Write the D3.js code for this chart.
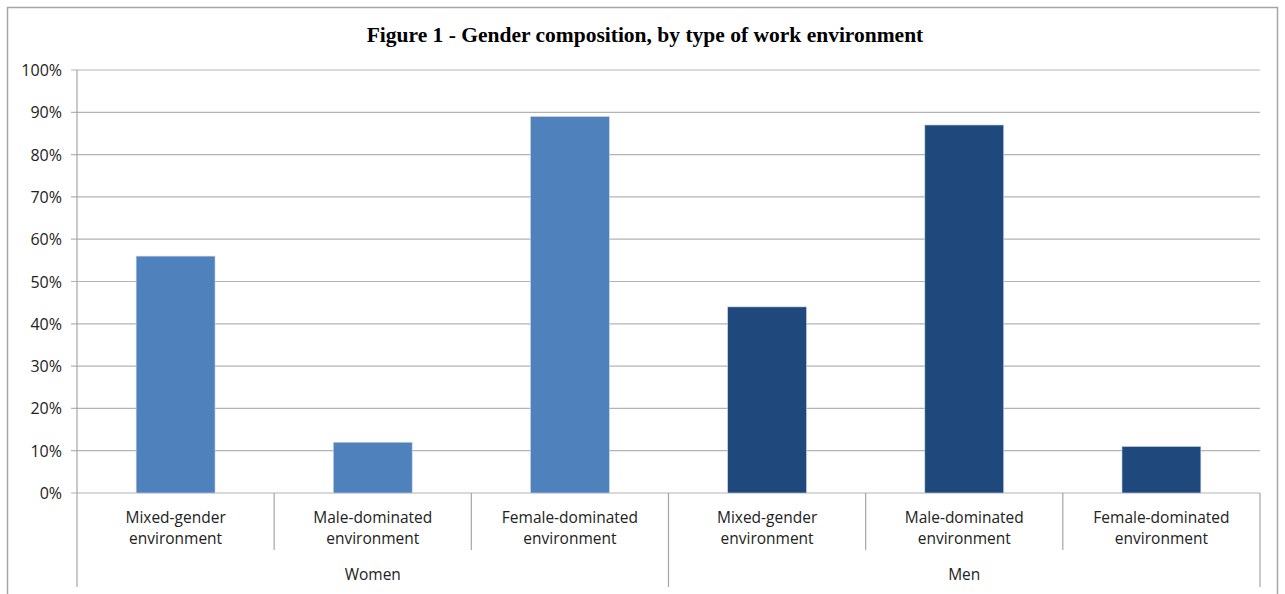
<!DOCTYPE html>
<html>
<head>
<meta charset="utf-8">
<script src="https://cdn.jsdelivr.net/npm/d3@7"></script>
<style>
	body { margin: 0; background: #fff; }
	text { font-family: "Open Sans", "Liberation Sans", sans-serif; fill: #222; }
</style>
</head>
<body>
<svg id="chart"></svg>
<script>
var groups = ["Women", "Men"]
var environments = ["Mixed-gender environment", "Male-dominated environment", "Female-dominated environment"]
var womenValues = [56, 12, 89]
var menValues = [44, 87, 11]
var yTicks = [0, 10, 20, 30, 40, 50, 60, 70, 80, 90, 100]
var groupColors = ["#4F81BD", "#1F497D"]

var data = []
groups.forEach(function (g, gi) {
	var vals = gi === 0 ? womenValues : menValues
	environments.forEach(function (e, ei) {
		data.push({ key: g + "|" + e, group: g, env: e, value: vals[ei], color: groupColors[gi] })
	})
})

var width = 1285
var height = 594
var plotLeft = 77, plotRight = 1260, plotTop = 70, plotBottom = 493

var svg = d3.select("#chart").attr("width", width).attr("height", height)

svg.append("rect")
	.attr("x", 7.5).attr("y", 7.5)
	.attr("width", 1270).attr("height", 600)
	.attr("fill", "#fff")
	.attr("stroke", "#A6A6A6")
	.attr("stroke-width", 1.5)

svg.append("text")
	.attr("x", 645)
	.attr("y", 42)
	.attr("text-anchor", "middle")
	.style("font-family", "'Liberation Serif', serif")
	.style("font-weight", "bold")
	.style("font-size", "21.5px")
	.style("fill", "#000")
	.text("Figure 1 - Gender composition, by type of work environment")

var x = d3.scaleBand()
	.domain(data.map(d => d.key))
	.range([plotLeft, plotRight])
	.paddingInner(0.6)
	.paddingOuter(0.3)

var y = d3.scaleLinear().domain([0, 100]).range([plotBottom, plotTop])

// gridlines
svg.append("g")
	.selectAll("line")
	.data(yTicks)
	.enter()
	.append("line")
	.attr("x1", plotLeft - 6)
	.attr("x2", plotRight)
	.attr("y1", d => y(d))
	.attr("y2", d => y(d))
	.attr("stroke", "#B3B3B3")
	.attr("stroke-width", 1.2)

// y tick labels
svg.append("g")
	.selectAll("text")
	.data(yTicks)
	.enter()
	.append("text")
	.attr("x", 62)
	.attr("y", d => y(d) + 6)
	.attr("text-anchor", "end")
	.style("font-size", "16px")
	.text(d => d + "%")

// bars
svg.append("g")
	.selectAll("rect")
	.data(data)
	.enter()
	.append("rect")
	.attr("x", d => x(d.key))
	.attr("width", x.bandwidth())
	.attr("y", d => y(d.value))
	.attr("height", d => y(0) - y(d.value))
	.attr("fill", d => d.color)
	.attr("stroke", "#c9d6ea")
	.attr("stroke-width", 0.6)

// y axis line
svg.append("line")
	.attr("x1", plotLeft).attr("x2", plotLeft)
	.attr("y1", plotTop).attr("y2", 587)
	.attr("stroke", "#A6A6A6")
	.attr("stroke-width", 1.2)

// category separators
var step = x.step()
var bounds = d3.range(data.length + 1).map(i => plotLeft + i * step)
svg.append("g")
	.selectAll("line")
	.data(bounds.slice(1))
	.enter()
	.append("line")
	.attr("x1", d => d).attr("x2", d => d)
	.attr("y1", plotBottom)
	.attr("y2", (d, i) => (i + 1) % environments.length === 0 ? 587 : 550)
	.attr("stroke", "#A6A6A6")
	.attr("stroke-width", 1.2)

// category labels
var catLabels = svg.append("g")
	.selectAll("text")
	.data(data)
	.enter()
	.append("text")
	.attr("text-anchor", "middle")
	.style("font-size", "15.5px")
	.attr("transform", d => "translate(" + (x(d.key) + x.bandwidth() / 2) + ",0)")

catLabels.each(function (d) {
	var words = d.env.split(" ")
	var el = d3.select(this)
	el.append("tspan").attr("x", 0).attr("y", 523).text(words[0])
	el.append("tspan").attr("x", 0).attr("y", 544).text(words[1])
})

// group labels
svg.append("g")
	.selectAll("text")
	.data(groups)
	.enter()
	.append("text")
	.attr("x", (d, i) => plotLeft + (i + 0.5) * step * environments.length)
	.attr("y", 580)
	.attr("text-anchor", "middle")
	.style("font-size", "15.5px")
	.text(d => d)
</script>
</body>
</html>
